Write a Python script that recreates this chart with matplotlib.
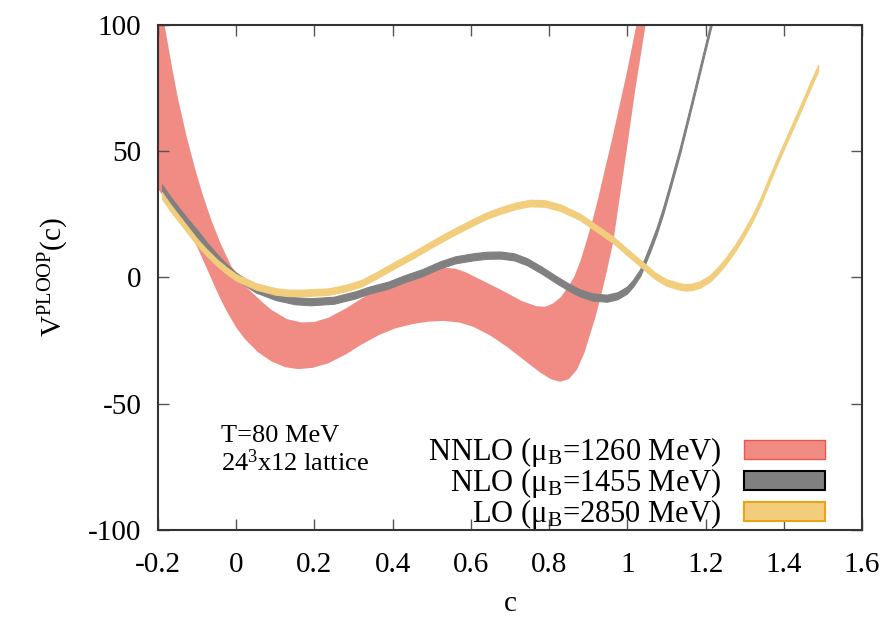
import numpy as np
import matplotlib
matplotlib.use('Agg')
import matplotlib.pyplot as plt
from matplotlib.patches import Patch

plt.rcParams['font.family'] = ['Liberation Serif', 'DejaVu Serif']
plt.rcParams['mathtext.fontset'] = 'custom'
plt.rcParams['mathtext.rm'] = 'Liberation Serif'
plt.rcParams['mathtext.it'] = 'Liberation Serif:italic'
plt.rcParams['axes.unicode_minus'] = False

# NNLO band (red), upper and lower edges
nnlo_up_x = [-0.21, -0.182, -0.165, -0.149, -0.127, -0.105, -0.085, -0.063, -0.04, -0.012,
             0.02, 0.048, 0.07, 0.091, 0.13, 0.167, 0.2, 0.235, 0.28, 0.321, 0.36, 0.389,
             0.43, 0.474, 0.5, 0.53, 0.56, 0.585, 0.606, 0.65, 0.692, 0.73, 0.768, 0.79,
             0.81, 0.83, 0.85, 0.865, 0.88, 0.895, 0.91, 0.925, 0.94, 0.96, 0.98, 1.0,
             1.022, 1.04]
nnlo_up_y = [124, 99, 84, 71, 56, 43, 32.5, 22.5, 13.5, 4.3,
             -3, -7, -10.2, -12.9, -16.5, -17.8, -17.6, -16, -12.3, -8.3, -4.6, -2.3,
             0.5, 2.3, 3.4, 3.9, 3.5, 2.2, 0.6, -2.8, -6.1, -9.3, -11.4, -11.6,
             -10.3, -7.8, -3.5, 0.5, 6.5, 14, 22, 31, 41, 54, 68, 82,
             99, 112]
nnlo_lo_x = [-0.2, -0.185, -0.17, -0.15, -0.131, -0.115, -0.098, -0.085, -0.072, -0.055,
             -0.037, -0.02, 0.0, 0.023, 0.055, 0.091, 0.125, 0.158, 0.195, 0.235, 0.28,
             0.321, 0.365, 0.406, 0.45, 0.49, 0.53, 0.57, 0.606, 0.65, 0.692, 0.735, 0.777,
             0.805, 0.828, 0.85, 0.871, 0.89, 0.905, 0.918, 0.93, 0.947, 0.964, 0.98, 0.999,
             1.02, 1.046, 1.06]
nnlo_lo_y = [35, 32, 28.5, 25, 21, 16.5, 11.5, 7, 2.5, -3.5,
             -9.5, -14.5, -19.8, -24.5, -29.5, -33.3, -35.5, -36.3, -35.8, -34, -30.5,
             -26.5, -22.8, -20.2, -18.5, -17.5, -17.2, -17.8, -19.5, -23, -27.4, -32.6, -37.6,
             -40.3, -41.3, -40.3, -36.6, -30, -22.5, -16, -9, 2, 14, 31, 51,
             74, 99.3, 112]

# NLO band (gray)
nlo_x = [-0.19, -0.17, -0.15, -0.125, -0.1, -0.075, -0.05, -0.025, 0.0, 0.05, 0.1, 0.15,
         0.19, 0.25, 0.304, 0.34, 0.389, 0.43, 0.474, 0.521, 0.56, 0.606, 0.64, 0.675, 0.71,
         0.743, 0.78, 0.82, 0.85, 0.879, 0.91, 0.948, 0.975, 0.999, 1.015, 1.033, 1.045,
         1.058, 1.075, 1.092, 1.11, 1.135, 1.16, 1.19, 1.212, 1.225]
nlo_y = [35.5, 31, 27, 22, 17.5, 12.5, 8, 4, 0.5, -4.5, -7.5, -9.2,
         -9.6, -9, -6.9, -5, -3, -0.5, 1.8, 5, 7, 8.2, 8.8, 8.9, 8.2,
         6.3, 3, -1, -3.8, -6.1, -7.7, -8.2, -7.2, -5, -2.2, 2, 6.5,
         11.5, 18.5, 26.7, 36.5, 50.5, 66, 85, 99, 107]
nlo_err = 1.4

# LO band (yellow)
lo_x = [-0.19, -0.17, -0.15, -0.125, -0.1, -0.075, -0.05, -0.025, 0.0, 0.05, 0.1, 0.133,
        0.17, 0.235, 0.28, 0.321, 0.36, 0.406, 0.45, 0.5, 0.55, 0.6, 0.64, 0.675, 0.715,
        0.751, 0.79, 0.83, 0.879, 0.92, 0.964, 1.0, 1.033, 1.07, 1.1, 1.135, 1.15, 1.165,
        1.185, 1.21, 1.23, 1.25, 1.275, 1.296, 1.32, 1.34, 1.36, 1.383, 1.41, 1.44, 1.465,
        1.488]
lo_y = [32.5, 28, 24, 19, 14, 9.8, 6, 2.8, 0.0, -3.5, -5.5, -6.1,
        -6.1, -5.6, -4.2, -2.2, 1, 5, 8.7, 13.2, 17.5, 21.5, 24.5, 26.5, 28.4,
        29.5, 29.3, 27.6, 24, 19.6, 14.9, 10, 5.7, 0.8, -2, -3.6, -3.9, -3.7,
        -2.8, -0.5, 2.5, 6.2, 11.5, 16.8, 23.5, 30, 37.5, 46, 55.5, 66, 75,
        83]
lo_err = 1.3

labels = ['NNLO (μ$_\\mathrm{B}$=1260 MeV)', 'NLO (μ$_\\mathrm{B}$=1455 MeV)',
          'LO (μ$_\\mathrm{B}$=2850 MeV)']

red = '#f08c84'
gray = '#808080'
yellow = '#f2cd7c'

fig = plt.figure(figsize=(8.89, 6.19), dpi=100)
ax = fig.add_axes([0.1777, 0.1438, 0.7919, 0.8158])

ax.fill(np.concatenate([nnlo_up_x, nnlo_lo_x[::-1]]),
        np.concatenate([nnlo_up_y, nnlo_lo_y[::-1]]),
        color=red, lw=0, zorder=1)
nlo_x = np.array(nlo_x)
nlo_y = np.array(nlo_y)
ax.fill_between(nlo_x, nlo_y - nlo_err, nlo_y + nlo_err, color=gray, lw=0.8, zorder=2)
lo_x = np.array(lo_x)
lo_y = np.array(lo_y)
ax.fill_between(lo_x, lo_y - lo_err, lo_y + lo_err, color=yellow, lw=0.8, zorder=3)

ax.set_xlim(-0.2, 1.6)
ax.set_ylim(-100, 100)
ax.set_xticks(np.arange(-0.2, 1.61, 0.2))
ax.set_xticklabels(['-0.2', '0', '0.2', '0.4', '0.6', '0.8', '1', '1.2', '1.4', '1.6'])
ax.set_yticks([-100, -50, 0, 50, 100])
ax.tick_params(direction='in', length=8, width=1, top=True, right=True,
               labelsize=21, color='#555555')
ax.tick_params(axis='x', pad=16)
ax.tick_params(axis='y', pad=12)
for sp in ax.spines.values():
    sp.set_linewidth(1.5)
    sp.set_color('#333333')

ax.set_xlabel('c', fontsize=21, labelpad=9)
ax.set_ylabel('V$^\\mathrm{PLOOP}$(c)', fontsize=21, labelpad=12)

ax.text(-0.04, -68.5, 'T=80 MeV\n24$^\\mathrm{3}$x12 lattice', fontsize=19,
        ha='left', va='center', linespacing=1.1)

handles = [Patch(facecolor=red, edgecolor='#e8574a', lw=1),
           Patch(facecolor=gray, edgecolor='black', lw=1.5),
           Patch(facecolor=yellow, edgecolor='#e8a317', lw=1.5)]
ax.legend(handles, labels, loc='lower right', bbox_to_anchor=(0.978, -0.045),
          frameon=False, markerfirst=False, fontsize=22, handlelength=2.65,
          handleheight=0.56, labelspacing=-0.1, handletextpad=0.75, borderpad=0.2)

fig.savefig('out.png', dpi=100)
